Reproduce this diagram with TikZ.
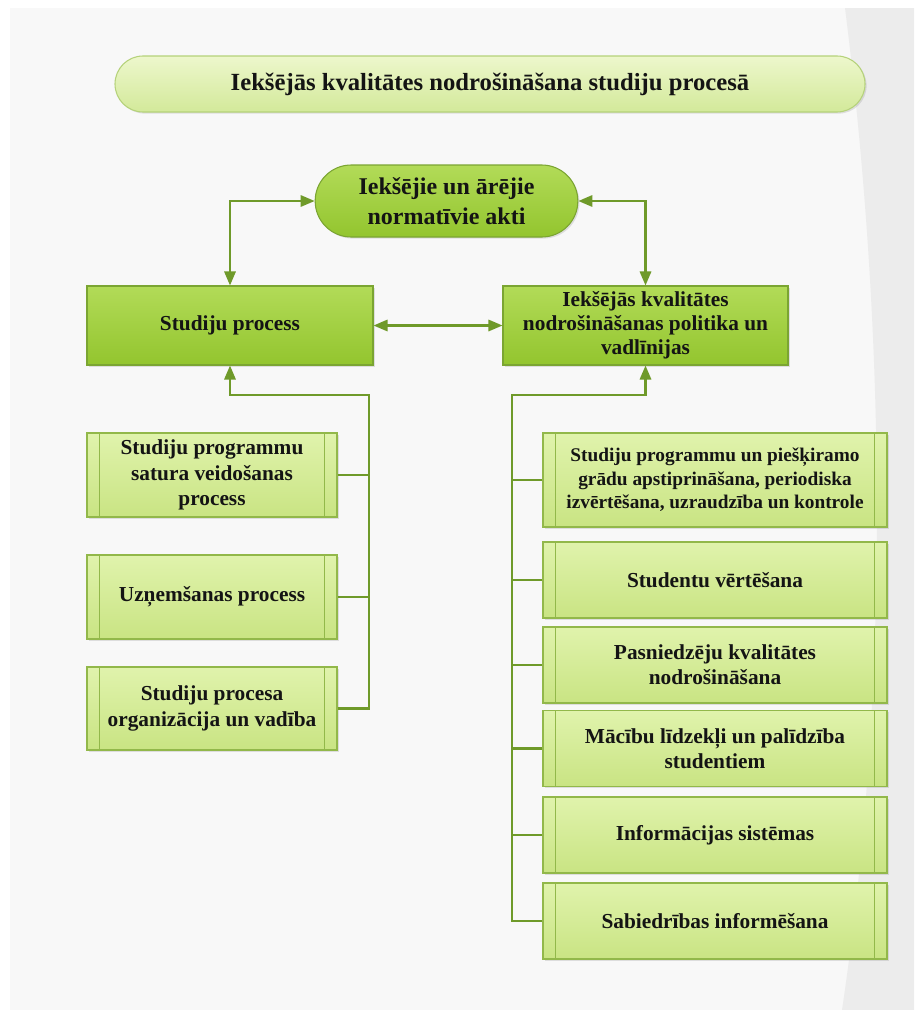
\documentclass[tikz,border=0pt]{standalone}
\usepackage{fontspec}
\setmainfont{Liberation Serif}
\usepackage{xcolor}
\usepackage{tikz}
\usetikzlibrary{arrows.meta}
\usetikzlibrary{shadows}

\definecolor{lineg}{HTML}{6F9A2A}
\definecolor{maintop}{HTML}{B2DB58}
\definecolor{mainbot}{HTML}{93C52E}
\definecolor{mainrim}{HTML}{7BA532}
\definecolor{subtop}{HTML}{E0F3AC}
\definecolor{subbot}{HTML}{C9E483}
\definecolor{subrim}{HTML}{92B84A}
\definecolor{ttltop}{HTML}{EDF7CC}
\definecolor{ttlbot}{HTML}{D3E99A}
\definecolor{ttlrim}{HTML}{B5D27A}
\definecolor{txtc}{HTML}{141414}
\definecolor{bgc}{HTML}{F8F8F8}
\definecolor{bandc}{HTML}{ECECEC}

\tikzset{
  softshadow/.style={drop shadow={shadow xshift=1.2pt, shadow yshift=-1.2pt, opacity=0.22}},
  mainbox/.style={draw=mainrim, line width=0.8pt, top color=maintop, bottom color=mainbot,
    text=txtc, align=center, inner sep=2pt, softshadow,
    font=\fontsize{16}{18}\selectfont\bfseries},
  subbox/.style={draw=subrim, line width=0.8pt, top color=subtop, bottom color=subbot,
    text=txtc, align=center, inner sep=2pt, softshadow,
    font=\fontsize{16}{19}\selectfont\bfseries,
    path picture={
      \draw[subrim, line width=0.7pt]
        ([xshift=9.5pt]path picture bounding box.north west) -- ([xshift=9.5pt]path picture bounding box.south west)
        ([xshift=-9.5pt]path picture bounding box.north east) -- ([xshift=-9.5pt]path picture bounding box.south east);
    }},
  conn/.style={draw=lineg, line width=1.6pt},
}

\begin{document}
\begin{tikzpicture}[x=0.75pt, y=-0.75pt, >={Triangle[length=10.5pt,width=8.5pt]}]
    \useasboundingbox (0,0) rectangle (914,1010);

    % Background
    \fill[white] (0,0) rectangle (914,1010);
    \fill[bgc] (10,8) rectangle (914,1010);
    \fill[bandc] (845,8) .. controls (888,350) and (888,700) .. (842,1010) -- (914,1010) -- (914,8) -- cycle;

    % Title
    \node[draw=ttlrim, line width=0.8pt, top color=ttltop, bottom color=ttlbot, softshadow,
          rounded corners=21pt, minimum width=562.5pt, minimum height=42pt,
          text=txtc, font=\fontsize{18.5}{22}\selectfont\bfseries] (title) at (490,84)
          {Iekšējās kvalitātes nodrošināšana studiju procesā};

    % Top level
    \node[mainbox, rounded corners=27pt, minimum width=197pt, minimum height=54pt,
          font=\fontsize{18}{22.5}\selectfont\bfseries] (akti) at (446.5,201)
          {Iekšējie un ārējie\\normatīvie akti};
    \node[mainbox, minimum width=214.5pt, minimum height=59.25pt] (sp) at (230,325.5) {Studiju process};
    \node[mainbox, minimum width=213.75pt, minimum height=59.25pt] (pol) at (645.5,325.5)
          {Iekšējās kvalitātes\\nodrošināšanas politika un\\vadlīnijas};

    \draw[conn,<->] (akti.west) -| (sp.north);
    \draw[conn,<->] (akti.east) -| (pol.north);
    \draw[conn,<->] (sp.east) -- (pol.west);

    % Left branch
    \node[subbox, minimum width=187.5pt, minimum height=63pt] (ls1) at (212,475)
          {Studiju programmu\\satura veidošanas\\process};
    \node[subbox, minimum width=187.5pt, minimum height=63pt] (ls2) at (212,597) {Uzņemšanas process};
    \node[subbox, minimum width=187.5pt, minimum height=62.25pt] (ls3) at (212,708.5)
          {Studiju procesa\\organizācija un vadība};

    \coordinate (lturn) at (369,395);
    \draw[conn,->] (ls3.east) -- (ls3.east -| lturn) -- (lturn) -| (sp.south);
    \draw[conn] (ls1.east) -- (ls1.east -| lturn);
    \draw[conn] (ls2.east) -- (ls2.east -| lturn);

    % Right branch
    \node[subbox, minimum width=258pt, minimum height=70.5pt,
          font=\fontsize{14.5}{17.5}\selectfont\bfseries] (rs1) at (715,480)
          {Studiju programmu un piešķiramo\\grādu apstiprināšana, periodiska\\izvērtēšana, uzraudzība un kontrole};
    \node[subbox, minimum width=258pt, minimum height=57pt] (rs2) at (715,580) {Studentu vērtēšana};
    \node[subbox, minimum width=258pt, minimum height=57pt] (rs3) at (715,665)
          {Pasniedzēju kvalitātes\\nodrošināšana};
    \node[subbox, minimum width=258pt, minimum height=57pt] (rs4) at (715,748.5)
          {Mācību līdzekļi un palīdzība\\studentiem};
    \node[subbox, minimum width=258pt, minimum height=57pt] (rs5) at (715,835) {Informācijas sistēmas};
    \node[subbox, minimum width=258pt, minimum height=57pt] (rs6) at (715,921) {Sabiedrības informēšana};

    \coordinate (rturn) at (512,395);
    \draw[conn,->] (rs6.west) -- (rs6.west -| rturn) -- (rturn) -| (pol.south);
    \foreach \b in {rs1,rs2,rs3,rs4,rs5}
        \draw[conn] (\b.west) -- (\b.west -| rturn);
\end{tikzpicture}
\end{document}
